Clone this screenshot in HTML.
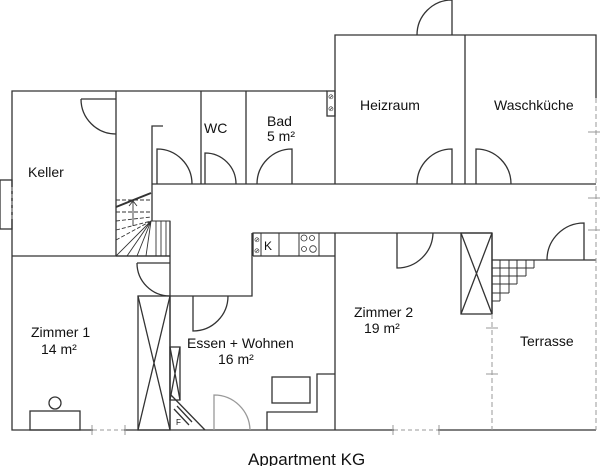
<!DOCTYPE html>
<html><head><meta charset="utf-8"><style>
html,body{margin:0;padding:0;background:#fff}
svg{display:block}
text{font-family:"Liberation Sans",sans-serif;fill:#111}
</style></head><body>
<svg width="600" height="466" viewBox="0 0 600 466" xmlns="http://www.w3.org/2000/svg">
<g fill="none" stroke="#333" stroke-width="1.3">
<polyline points="327,91 12,91 12,430 596,430"/>
<polyline points="335,184 335,35 596,35 596,98"/>
<line x1="465" y1="35" x2="465" y2="184"/>
<line x1="152" y1="184" x2="596" y2="184"/>
<line x1="116" y1="91" x2="116" y2="256"/>
<line x1="201" y1="91" x2="201" y2="184"/>
<line x1="246" y1="91" x2="246" y2="184"/>
<polyline points="163,126 152,126 152,184"/>
<line x1="152" y1="184" x2="152" y2="221"/>
<line x1="12" y1="256" x2="170" y2="256"/>
<line x1="170" y1="221" x2="170" y2="430"/>
<polyline points="170,296 252,296 252,233"/>
<polyline points="253,256 253,233 492,233"/>
<line x1="253" y1="256" x2="335" y2="256"/>
<line x1="335" y1="233" x2="335" y2="430"/>
<line x1="492" y1="233" x2="492" y2="314"/>
<line x1="492" y1="260" x2="596" y2="260"/>
<rect x="327" y="91" width="8" height="25"/>
<rect x="0" y="180" width="12" height="49"/>
<path d="M81,99 H116 M81,99 A35,35 0 0 0 116,134"/>
<path d="M157,184 V149 A35,35 0 0 1 192,184"/>
<path d="M205,184 V153 A31,31 0 0 1 236,184"/>
<path d="M292,184 V149 A35,35 0 0 0 257,184"/>
<path d="M452,35 V0 A35,35 0 0 0 417,35"/>
<path d="M452,184 V149 A35,35 0 0 0 417,184"/>
<path d="M476,184 V149 A35,35 0 0 1 511,184"/>
<path d="M137,263 H170 M137,263 A33,33 0 0 0 170,296"/>
<path d="M193,296 V331 A35,35 0 0 0 228,296"/>
<path d="M397,233 V268 A36,36 0 0 0 433,233"/>
<path d="M584,260 V223 A37,37 0 0 0 547,260"/>
<path d="M214,430 V395 A36,36 0 0 1 250,430" stroke="#999"/>
<rect x="138" y="296" width="32" height="134"/>
<path d="M138,296 L170,430 M170,296 L138,430"/>
<rect x="170" y="347" width="10" height="53"/>
<path d="M170,347 L180,400 M180,347 L170,400"/>
<path d="M170,394 L205,430"/>
<path d="M174,409 L189,425 M177,406 L192,422"/>
<rect x="461" y="233" width="31" height="81"/>
<path d="M461,233 L492,314 M492,233 L461,314"/>
<path d="M492,260 V301 M500,260 V301 M509,260 V293 M517,260 V284 M526,260 V276 M534,260 V268
M492,268 H534 M492,276 H526 M492,284 H517 M492,293 H509 M492,301 H500" stroke-width="1"/>
<path d="M116,207 L151,193" stroke-width="2"/>
<path d="M116,200 L151,200 M116,212 L151,212 M116,221 L151,217 M116,230 L151,221 M116,240 L151,221" stroke-dasharray="4,2" stroke-width="0.9"/>
<path d="M133,226 V202 M129,206 L133,201 L137,206" stroke-width="0.9"/>
<path d="M116,256 L151,221 M127,256 L151,221 M137,256 L151,221 M146,256 L151,221 M151,221 H170 V256 M156,221 V256 M161,221 V256 M166,221 V256" stroke-width="0.9"/>
<line x1="116" y1="256" x2="170" y2="256"/>
<path d="M261,233 V256 M279,233 V256 M299,233 V256 M319,233 V256" stroke-width="1"/>
<circle cx="304" cy="238" r="3" stroke-width="0.8"/>
<circle cx="312" cy="238" r="2.5" stroke-width="0.8"/>
<circle cx="304" cy="249" r="2.5" stroke-width="0.8"/>
<circle cx="313" cy="249" r="3.3" stroke-width="0.8"/>
<rect x="272" y="377" width="38" height="26"/>
<polyline points="267,430 267,412 317,412 317,374 335,374"/>
<rect x="30" y="411" width="50" height="19"/>
<circle cx="55" cy="403" r="6"/>
</g>
<g fill="none" stroke="#999" stroke-width="1">
<path d="M12,187 V221" stroke-dasharray="4,3"/>
<path d="M596,98 V430" stroke-dasharray="5,3"/>
<path d="M492,314 V430" stroke-dasharray="5,3"/>
<path d="M588,132 H600 M588,198 H600 M588,230 H600 M486,328 H498 M486,374 H498 M92,425 V435 M125,425 V435 M393,425 V435 M439,425 V435"/>
</g>
<g stroke="#fff" stroke-width="2.5"><path d="M93,430 H124 M394,430 H438"/></g>
<g stroke="#999" stroke-width="1" stroke-dasharray="4,3"><path d="M93,430 H124 M394,430 H438"/></g>
<g font-size="7" fill="#333"><text x="328" y="99">⊘</text><text x="328" y="111">⊘</text><text x="254" y="242">⊘</text><text x="254" y="253">⊘</text></g>
<g font-size="14">
<text x="28" y="177">Keller</text>
<text x="204" y="133">WC</text>
<text x="267" y="126">Bad</text>
<text x="267" y="141">5 m²</text>
<text x="360" y="110">Heizraum</text>
<text x="494" y="110">Waschküche</text>
<text x="264" y="250" font-size="12">K</text>
<text x="31" y="337">Zimmer 1</text>
<text x="41" y="354">14 m²</text>
<text x="187" y="348">Essen + Wohnen</text>
<text x="218" y="364">16 m²</text>
<text x="354" y="317">Zimmer 2</text>
<text x="364" y="333">19 m²</text>
<text x="520" y="346">Terrasse</text>
<text x="176" y="425" font-size="8">F</text>
<text x="248" y="465" font-size="17">Appartment KG</text>
</g>
</svg>
</body></html>
